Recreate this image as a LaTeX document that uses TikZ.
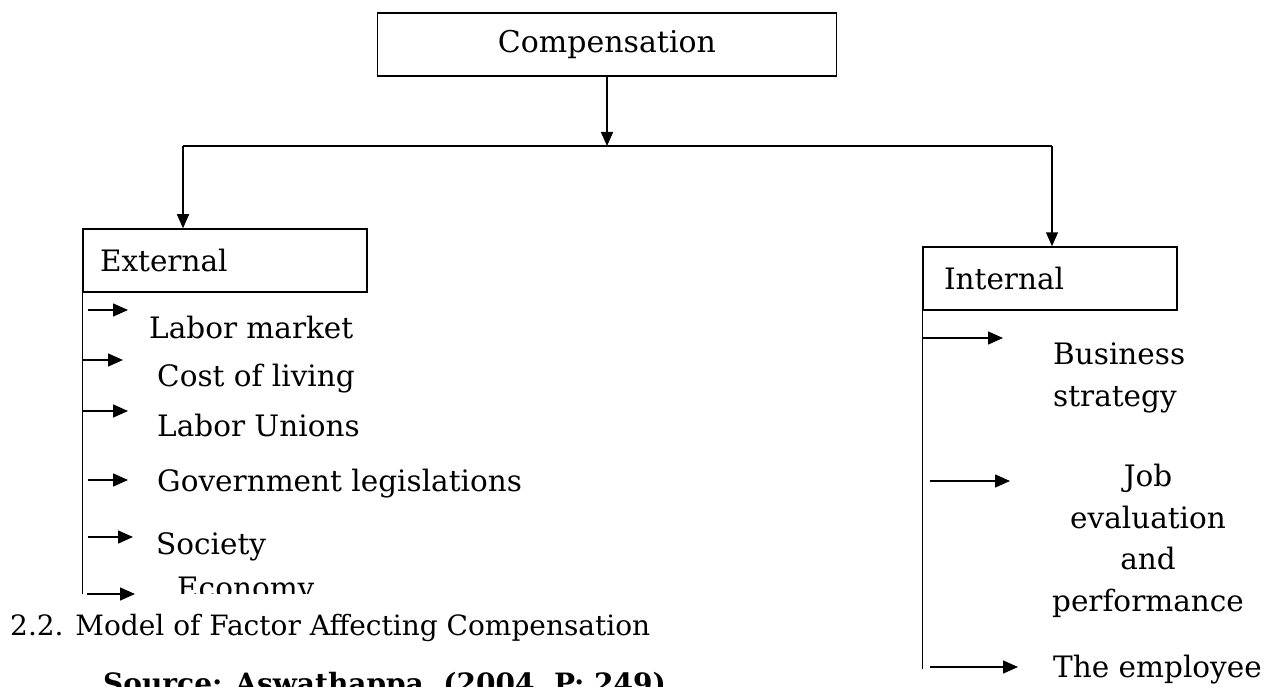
\documentclass[tikz,border=0pt]{standalone}
\usepackage{fontspec}
\setmainfont{DejaVu Serif}
\usetikzlibrary{arrows.meta,positioning,calc}
\tikzset{
  headbox/.style={
    draw,
    line width=1.5pt,
    minimum width=459pt,
    minimum height=63pt,
    inner sep=0pt,
    font=\fontsize{30}{41}\selectfont
  },
  groupbox/.style={
    draw,
    line width=1.5pt,
    minimum height=63pt,
    inner ysep=0pt,
    align=left,
    font=\fontsize{29.5}{41}\selectfont
  },
  factor/.style={
    inner sep=0pt,
    anchor=base west,
    align=left,
    font=\fontsize{29.5}{41.5}\selectfont
  },
  caption/.style={
    inner sep=0pt,
    anchor=base west,
    font=\fontsize{28}{34}\selectfont
  },
  treearrow/.style={-{Triangle[length=14pt,width=12pt]},line width=1.5pt},
  factorarrow/.style={-{Triangle[length=15pt,width=13pt]},line width=1.5pt}
}

\begin{document}
\begin{tikzpicture}[x=1pt,y=-1pt]
\useasboundingbox (0,0) rectangle (1274,687);
% boxes
\node[headbox] (comp) at (607,44.5) {Compensation};
\node[groupbox,text width=250pt,inner xsep=17pt] (ext) at (225,260.5) {External};
\node[groupbox,text width=212pt,inner xsep=21pt] (int) at (1050,278.5) {Internal};
% split below the top box
\coordinate (split) at (comp.south |- 0,146);
\coordinate (splitl) at (183,146);
\coordinate (splitr) at (1052,146);
\draw[treearrow] (comp.south) -- (split);
\draw[line width=1.5pt] (splitl) -- (splitr);
\draw[treearrow] (splitl) -- (splitl |- ext.north);
\draw[treearrow] (splitr) -- (splitr |- int.north);
% external factors
\draw[line width=1.5pt] (ext.south west) -- ++(0,301);
\node[factor] (market) at (149,338) {Labor market};
\node[factor] (living) at (157,386) {Cost of living};
\node[factor] (unions) at (157,436) {Labor Unions};
\node[factor] (govern) at (157,491) {Government legislations};
\node[factor] (society) at (156,554) {Society};
\begin{scope}
  \clip (0,0) rectangle (1274,593);
  \node[factor] (economy) at (177,598) {Economy};
\end{scope}
\draw[factorarrow] (88,310) -- (128,310);
\draw[factorarrow] (83,360) -- (123,360);
\draw[factorarrow] (83,411) -- (128,411);
\draw[factorarrow] (88,480) -- (128,480);
\draw[factorarrow] (88,537) -- (133,537);
\draw[factorarrow] (87,594) -- (135,594);
% internal factors
\draw[line width=1.5pt] (int.south west) -- ++(0,358);
\node[factor] (strategy) at (1053,406) {Business\\strategy};
\node[factor,anchor=base,align=center] (jobeval) at (1148,611) {Job\\evaluation\\and\\performance};
\node[factor] (employee) at (1053,677) {The employee};
\draw[factorarrow] (923,338) -- (1003,338);
\draw[factorarrow] (930,481) -- (1010,481);
\draw[factorarrow] (930,667) -- (1018,667);
% caption
\node[caption] (figcap) at (10,635) {2.2. Model of Factor Affecting Compensation};
\node[caption,font=\fontsize{28}{34}\selectfont\bfseries] (source) at (103,693) {Source: Aswathappa, (2004, P: 249)};
\end{tikzpicture}
\end{document}
